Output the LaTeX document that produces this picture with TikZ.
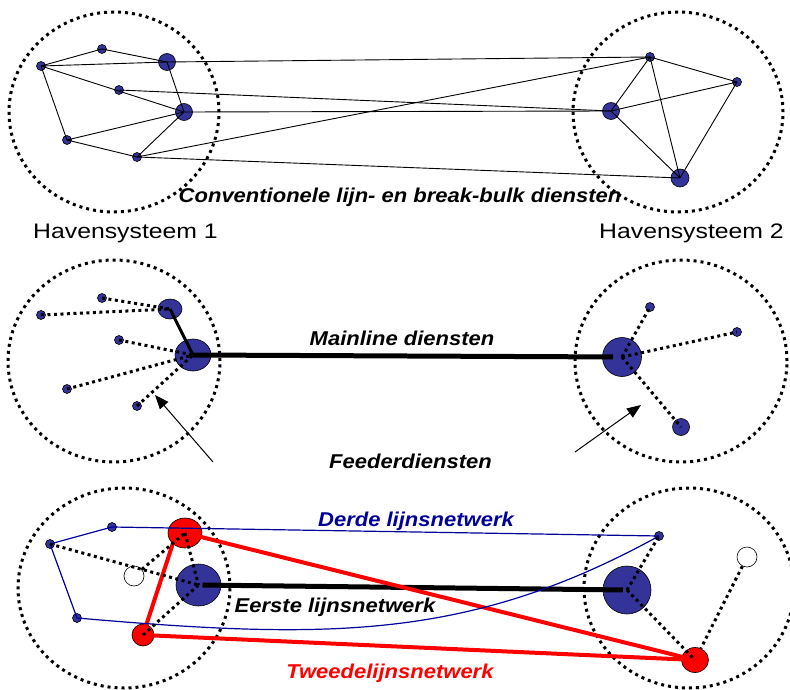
\documentclass[tikz,border=0pt]{standalone}
\usepackage{fontspec}
\setmainfont{Liberation Sans}
\newfontfamily\labfont[FakeStretch=1.1]{Liberation Sans}
\newfontfamily\havfont[FakeStretch=1.18]{Liberation Sans}
\usetikzlibrary{shapes.geometric,arrows.meta}
\definecolor{portblue}{RGB}{51,51,153}
\definecolor{netblue}{RGB}{0,0,153}
\definecolor{netred}{RGB}{255,0,0}
\begin{document}
\begin{tikzpicture}[x=1pt,y=-1pt,
  ring/.style={ellipse, draw=black, line width=3pt, dash pattern=on 3pt off 4pt,
    minimum width=210pt, minimum height=200pt, inner sep=0},
  port/.style={circle, draw=black, line width=0.6pt, fill=portblue, inner sep=0, minimum size=#1},
  eport/.style 2 args={ellipse, draw=black, line width=0.6pt, fill=portblue, inner sep=0,
    minimum width=#1, minimum height=#2},
  rport/.style 2 args={ellipse, draw=black, line width=0.6pt, fill=netred, inner sep=0,
    minimum width=#1, minimum height=#2},
  wport/.style={circle, draw=black, line width=0.6pt, fill=white, inner sep=0, minimum size=#1},
  link/.style={draw=black, line width=0.9pt},
  dotline/.style={draw=black, line width=3pt, dash pattern=on 3pt off 3.5pt},
  trunk/.style={draw=black, line width=5pt},
  feeder/.style={draw=black, line width=3pt},
  bluenet/.style={draw=netblue, line width=1.2pt},
  rednet/.style={draw=netred, line width=4pt},
  pointer/.style={draw=black, line width=1pt, -{Triangle[length=14pt,width=11pt]}},
  lab/.style={font=\labfont\bfseries\itshape\fontsize{20}{24}\selectfont, inner sep=0, anchor=base},
  hav/.style={font=\havfont\fontsize{21}{25}\selectfont, inner sep=0, anchor=base},
]
\useasboundingbox (0,0) rectangle (790,690);

% ================= top panel =================
\node[ring] (R1) at (114,112) {};
\node[ring] (R2) at (678,112) {};

\node[port=9pt]  (A1) at (41,66) {};
\node[port=9pt]  (A2) at (102,49) {};
\node[port=17pt] (A3) at (167,62) {};
\node[port=9pt]  (A4) at (119,90) {};
\node[port=17pt] (A5) at (184,112) {};
\node[port=9pt]  (A6) at (67,140) {};
\node[port=9pt]  (A7) at (137,157) {};

\node[port=9pt]  (B1) at (650,57) {};
\node[port=9pt]  (B2) at (737,82) {};
\node[port=17pt] (B3) at (611,111) {};
\node[port=18pt] (B4) at (680,178) {};

\foreach \a/\b in {A1/A2, A2/A3, A1/A3, A1/A5, A1/A6, A6/A5, A6/A7, A7/A5, A3/A5,
                   A3/B1, A7/B1, A4/B3, A5/B3, A7/B4,
                   B1/B2, B1/B3, B1/B4, B2/B3, B2/B4, B3/B4}
  \draw[link] (\a.center) -- (\b.center);

\node[lab] (T1) at (400,202) {Conventionele lijn- en break-bulk diensten};
\node[hav] (H1) at (125.5,238) {Havensysteem 1};
\node[hav] (H2) at (691.5,238) {Havensysteem 2};

% ================= middle panel =================
\node[ring, minimum width=212pt, minimum height=202pt] (R3) at (114,361) {};
\node[ring, minimum width=212pt, minimum height=202pt] (R4) at (681,361) {};

\node[port=9pt] (C1) at (41,315) {};
\node[port=9pt] (C2) at (102,298) {};
\node[eport={24pt}{20pt}] (C3) at (170,309) {};
\node[port=9pt] (C4) at (119,340) {};
\node[eport={36pt}{32pt}] (C5) at (193,355) {};
\node[port=9pt] (C6) at (67,389) {};
\node[port=9pt] (C7) at (137,406) {};

\node[port=39pt] (D1) at (622,357) {};
\node[port=9pt]  (D2) at (650,307) {};
\node[port=9pt]  (D3) at (737,332) {};
\node[port=17pt] (D4) at (681,427) {};

\foreach \a in {C1, C2}
  \draw[dotline] (\a.center) -- (C3.center);
\foreach \a in {C4, C6, C7}
  \draw[dotline] (\a.center) -- (C5.center);
\foreach \b in {D2, D3, D4}
  \draw[dotline] (D1.center) -- (\b.center);
\draw[feeder] (C3.center) -- (C5.center);
\draw[trunk, shorten >=9pt] (C5.center) -- (D1.center);

\coordinate (P1) at (213,462);
\coordinate (Q1) at (155,395);
\coordinate (P2) at (575,452);
\coordinate (Q2) at (641,405);
\draw[pointer] (P1) -- (Q1);
\draw[pointer] (P2) -- (Q2);

\node[lab] (T2) at (402,345) {Mainline diensten};
\node[lab] (T3) at (410.5,468) {Feederdiensten};

% ================= bottom panel =================
\node[ring, minimum width=212pt, minimum height=200pt] (R5) at (124,588) {};
\node[ring, minimum width=210pt, minimum height=200pt] (R6) at (689,588) {};

\node[port=9pt] (E1) at (112,527) {};
\node[port=9pt] (E2) at (50,544) {};
\node[rport={34pt}{30pt}] (E3) at (185,533) {};
\node[wport=20pt] (E4) at (134,576) {};
\node[eport={45pt}{42pt}] (E5) at (198.5,585) {};
\node[port=9pt] (E6) at (77,618) {};
\node[rport={22pt}{22pt}] (E7) at (143,635) {};

\node[port=9pt]  (F1) at (659,536) {};
\node[wport=20pt] (F2) at (747,557) {};
\node[port=48pt] (F3) at (627,590) {};
\node[rport={27pt}{25pt}] (F4) at (695,660) {};

% first network
\draw[trunk, shorten <=4pt, shorten >=4pt] (E5.center) -- (F3.center);
% second network
\draw[rednet] (E3.south west) -- (E7.center);
\draw[rednet] (E3.center) -- (F4.center);
\draw[rednet] (E7.center) -- (F4.center);
% third network
\draw[bluenet] (E2.center) -- (E1.center);
\draw[bluenet] (E1.center) -- (F1.center);
\draw[bluenet] (E2.center) -- (E6.center);
\draw[bluenet] (E6.center) .. controls (330,640) and (470,640) .. (F1.center);
% feeders
\draw[dotline] (E2.center) -- (E5.center);
\draw[dotline] (E4) -- (E3.center);
\draw[dotline] (E3.center) -- (E5.center);
\draw[dotline] (E7.center) -- (E5.center);
\draw[dotline] (F3.center) -- (F1.center);
\draw[dotline] (F3.center) -- (F4.center);
\draw[dotline] (F2) -- (F4);

\node[lab, text=netblue] (T4) at (416,526) {Derde lijnsnetwerk};
\node[lab] (T5) at (335,612) {Eerste lijnsnetwerk};
\node[lab, text=netred] (T6) at (390,678) {Tweedelijnsnetwerk};
\end{tikzpicture}
\end{document}
